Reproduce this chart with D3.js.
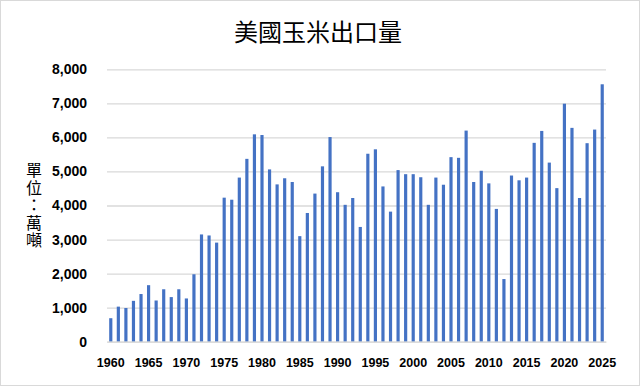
<!DOCTYPE html>
<html>
<head>
<meta charset="utf-8">
<script src="https://cdn.jsdelivr.net/npm/d3@7"></script>
<style>
  body { margin: 0; background: #fff; }
</style>
</head>
<body>
<div id="my_dataviz"></div>
<script>
// years and export volume (10k tonnes)
const years = d3.range(1960, 2026);
const exportsVol = [
  690, 1030, 990, 1200, 1400, 1660, 1210, 1540, 1310, 1540,
  1270, 1980, 3150, 3120, 2910, 4230, 4170, 4820, 5370, 6090,
  6070, 5060, 4620, 4800, 4690, 3100, 3780, 4350, 5150, 6010,
  4390, 4020, 4220, 3370, 5520, 5650, 4560, 3820, 5040, 4920,
  4920, 4830, 4020, 4820, 4610, 5420, 5400, 6200, 4690, 5020,
  4650, 3900, 1840, 4880, 4740, 4820, 5840, 6190, 5260, 4510,
  6990, 6280, 4220, 5830, 6230, 7560
];
const yTicks = [0, 1000, 2000, 3000, 4000, 5000, 6000, 7000, 8000];
const xTickYears = [1960, 1965, 1970, 1975, 1980, 1985, 1990, 1995, 2000, 2005, 2010, 2015, 2020, 2025];
const titleText = '美國玉米出口量';
const yLabel = '單位：萬噸';

const width = 640;
const height = 386;
const plot = {left: 107, right: 606, top: 69.3, bottom: 341.7};
const barColor = '#4472C4';
const gridColor = '#d9d9d9';
const yTickFont = 'bold 14px "Liberation Sans", Arial, sans-serif';
const xTickFont = 'bold 12.5px "Liberation Sans", Arial, sans-serif';
const cjkFont = '"Noto Sans CJK TC", "Noto Sans CJK SC", sans-serif';

const data = years.map((y, i) => ({year: y, value: exportsVol[i]}));

const xScale = d3.scaleBand()
    .domain(years)
    .range([plot.left, plot.right])
    .paddingInner(0.58)
    .paddingOuter(0.29);

const yScale = d3.scaleLinear()
    .domain([0, 8000])
    .range([plot.bottom, plot.top]);

const svg = d3.select('#my_dataviz')
    .append('svg')
        .attr('width', width)
        .attr('height', height);

svg.append('rect')
    .attr('x', 0.5).attr('y', 0.5)
    .attr('width', width - 1).attr('height', height - 1)
    .attr('fill', '#fff')
    .attr('stroke', gridColor);

// title
svg.append('text')
    .attr('x', 318)
    .attr('y', 41)
    .attr('text-anchor', 'middle')
    .style('font-family', cjkFont)
    .style('font-size', '24px')
    .attr('fill', '#000')
    .text(titleText);

// gridlines + y axis
const yAxis = svg.append('g')
    .attr('transform', `translate(${plot.left},0)`)
    .call(d3.axisLeft(yScale)
        .tickValues(yTicks)
        .tickSize(-(plot.right - plot.left))
        .tickPadding(20)
        .tickFormat(d3.format(',')));
yAxis.select('.domain').remove();
yAxis.selectAll('.tick line')
    .attr('stroke', gridColor)
    .attr('stroke-width', 1.3);
yAxis.selectAll('.tick text')
    .style('font', yTickFont)
    .attr('fill', '#000');

// bars
svg.append('g')
    .selectAll('rect')
    .data(data)
    .join('rect')
        .attr('x', d => xScale(d.year))
        .attr('y', d => yScale(d.value))
        .attr('width', xScale.bandwidth())
        .attr('height', d => yScale(0) - yScale(d.value))
        .attr('fill', barColor);

// x axis
const xAxis = svg.append('g')
    .attr('transform', `translate(0,${plot.bottom})`)
    .call(d3.axisBottom(xScale)
        .tickValues(xTickYears)
        .tickSize(0)
        .tickPadding(16));
xAxis.select('.domain')
    .attr('stroke', gridColor)
    .attr('stroke-width', 1.3);
xAxis.selectAll('.tick text')
    .style('font', xTickFont)
    .attr('fill', '#000');

// vertical y label
svg.append('text')
    .attr('x', 34)
    .attr('y', 162)
    .style('writing-mode', 'vertical-rl')
    .style('text-orientation', 'upright')
    .style('font-family', cjkFont)
    .style('font-size', '16px')
    .style('letter-spacing', '1.5px')
    .attr('fill', '#000')
    .text(yLabel);
</script>
</body>
</html>
